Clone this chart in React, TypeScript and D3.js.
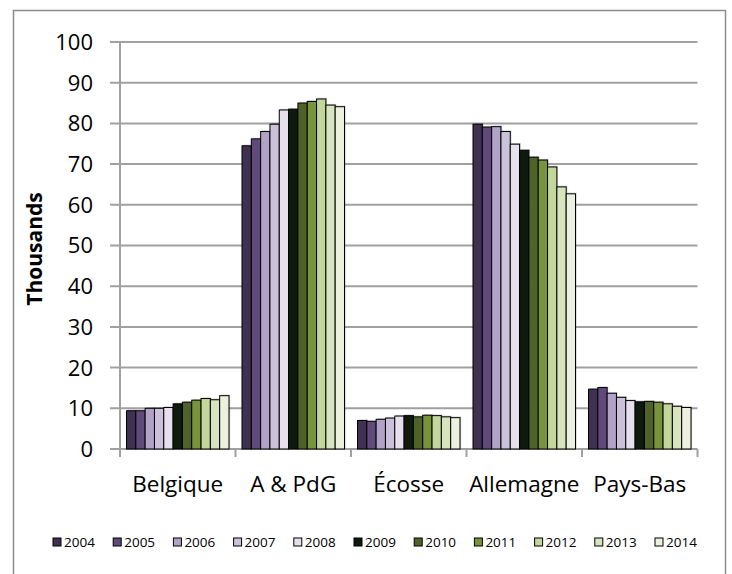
import React from "react";
import * as d3 from "d3";

const categories = ["Belgique", "A & PdG", "Écosse", "Allemagne", "Pays-Bas"];
const years = ["2004", "2005", "2006", "2007", "2008", "2009", "2010", "2011", "2012", "2013", "2014"];
const belgique = [9.4, 9.4, 10.0, 10.0, 10.2, 11.1, 11.5, 12.0, 12.4, 12.1, 13.1];
const apdg = [74.5, 76.2, 78.0, 79.8, 83.3, 83.5, 85.0, 85.4, 86.0, 84.5, 84.1];
const ecosse = [7.0, 6.8, 7.3, 7.6, 8.1, 8.2, 7.9, 8.3, 8.2, 7.9, 7.7];
const allemagne = [79.8, 79.1, 79.2, 78.0, 74.9, 73.4, 71.7, 71.0, 69.3, 64.4, 62.7];
const paysBas = [14.7, 15.1, 13.7, 12.7, 11.9, 11.6, 11.7, 11.5, 11.1, 10.5, 10.2];
const yTicks = [0, 10, 20, 30, 40, 50, 60, 70, 80, 90, 100];
const colors = ["#3f3151", "#604a7b", "#b3a2c7", "#ccc1da", "#e6e0ec", "#0d1a0c", "#4f6228", "#77933c", "#c3d69b", "#d7e4bd", "#ebf1de"];

const seriesByCategory = [belgique, apdg, ecosse, allemagne, paysBas];

export default function App() {
  const W = 732, H = 574;
  const left = 120, right = 697.5, top = 42, bottom = 449;
  const font = "'Open Sans', 'Noto Sans', sans-serif";
  const x = d3.scaleBand<string>().domain(categories).range([left, right]).paddingInner(0).paddingOuter(0);
  const pad = 6.5;
  const inner = d3.scaleBand<string>().domain(years).range([pad, x.bandwidth() - pad]).padding(0);
  const y = d3.scaleLinear().domain([0, 100]).range([bottom, top]);
  const grid = "#a0a0a0";
  const legendX = d3.scalePoint<string>().domain(years).range([53, 655]);

  return (
    <svg width={W} height={H} style={{ position: "absolute", left: 0, top: 0 }} fontFamily={font}>
      <rect x={0} y={0} width={W} height={H} fill="#fff" />
      <rect x={13.5} y={10.5} width={712} height={600} fill="none" stroke="#8c8c8c" strokeWidth={1.5} />
      {yTicks.map((t) => (
        <g key={t}>
          <line x1={left - 10} x2={right} y1={y(t)} y2={y(t)} stroke={grid} strokeWidth={2} />
          <text x={93} y={y(t)} dy="0.36em" textAnchor="end" fontSize={22} fill="#000">{t}</text>
        </g>
      ))}
      <line x1={left} x2={left} y1={top} y2={bottom} stroke={grid} strokeWidth={2} />
      {[...categories.map((c) => x(c) as number), right].map((px, i) => (
        <line key={i} x1={px} x2={px} y1={bottom} y2={bottom + 8} stroke={grid} strokeWidth={2} />
      ))}
      {categories.map((c, ci) => (
        <g key={c} transform={`translate(${x(c)},0)`}>
          {seriesByCategory[ci].map((v, i) => (
            <g key={i}>
              <rect x={(inner(years[i]) as number) + 1.2} y={y(v) - 1.2} width={inner.bandwidth()} height={bottom - y(v)} fill="#000" opacity={0.18} />
              <rect x={inner(years[i])} y={y(v)} width={inner.bandwidth()} height={bottom - y(v)} fill={colors[i]} stroke="#000" strokeWidth={1} />
            </g>
          ))}
          <text x={x.bandwidth() / 2} y={492} textAnchor="middle" fontSize={22.5} fill="#000">{c}</text>
        </g>
      ))}
      <text transform={`translate(42,249) rotate(-90)`} textAnchor="middle" fontSize={21} fontWeight="bold" fill="#000">Thousands</text>
      {years.map((yr, i) => (
        <g key={yr} transform={`translate(${legendX(yr)},542)`}>
          <rect x={0} y={-4} width={8} height={8} fill={colors[i]} stroke="#000" strokeWidth={1} />
          <text x={11} y={0} dy="0.36em" fontSize={13.5} fill="#000">{yr}</text>
        </g>
      ))}
    </svg>
  );
}
